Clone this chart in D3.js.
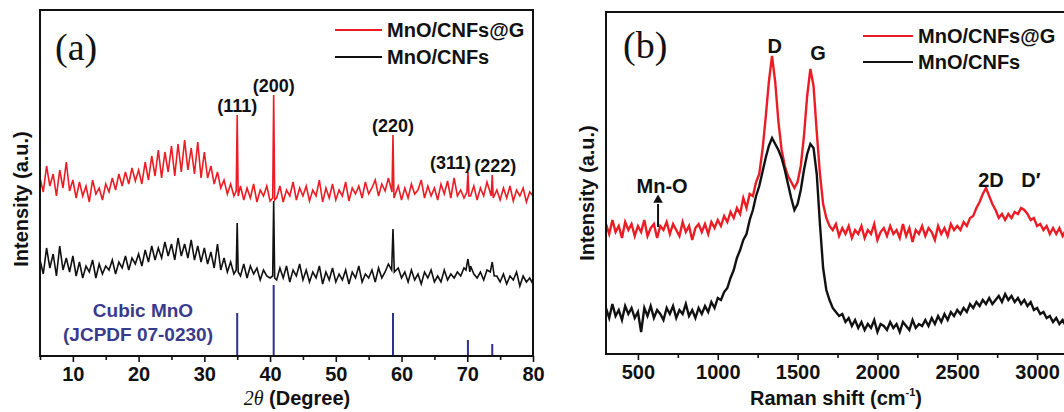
<!DOCTYPE html>
<html lang="en">
<head>
<meta charset="utf-8">
<title>MnO/CNFs XRD and Raman</title>
<script src="https://cdn.jsdelivr.net/npm/d3@7/dist/d3.min.js"></script>
<style>
  body { margin: 0; background: #fff; }
  svg { display: block; font-family: "Liberation Sans", Arial, sans-serif; font-weight: bold; }
  .serif { font-family: "Liberation Serif", "Times New Roman", serif; font-weight: normal; }
  .tick text { font-size: 20px; font-family: "Liberation Sans", Arial, sans-serif; font-weight: bold; }
  .tick line { stroke: #111; stroke-width: 1.6; }
</style>
</head>
<body>
<svg id="chart" width="1064" height="412"></svg>
<script>
// ---- (a) XRD, intensities on a 0.5 deg grid from 5 to 80 (a.u.) ----
var xrdStart = 5, xrdStep = 0.5;
var redXrd = [
  178,164,190,170,182,160,186,168,194,165,176,
  158,174,160,170,154,176,162,168,156,172,
  164,178,166,182,170,184,172,188,175,186,
  172,194,176,200,180,206,178,204,184,210,
  180,212,184,216,186,208,182,214,178,204,
  178,190,172,184,168,176,162,172,160,166,
  170,156,168,158,172,154,166,160,170,155,162,
  158,170,154,166,160,174,156,168,160,
  170,155,166,160,176,154,168,158,172,156,
  166,160,174,155,168,162,170,158,174,162,
  168,176,160,172,165,178,160,157,170,156,
  168,158,172,162,166,176,158,170,160,168,
  156,172,162,175,158,178,160,166,158,168,
  160,170,156,168,160,174,162,158,166,156,
  168,158,170,155,166,160,168,154,164,160
];
var blackXrd = [
  96,82,108,88,102,80,110,86,98,84,100,
  80,94,78,90,84,96,78,92,82,90,
  86,96,82,94,88,100,86,98,92,102,
  90,106,94,110,96,108,98,114,100,112,
  96,118,100,112,98,116,96,110,94,108,
  92,104,88,112,86,98,84,94,82,90,
  80,92,78,90,82,88,76,86,80,78,84,
  76,88,78,90,74,86,80,92,76,
  86,74,84,78,90,72,84,76,88,74,
  82,76,86,72,84,78,90,74,82,78,
  86,74,88,78,84,92,80,76,88,78,
  84,74,86,76,82,72,84,78,86,74,
  80,74,86,76,82,78,84,80,88,92,
  90,82,78,84,76,86,90,86,80,74,
  82,72,80,76,84,70,80,74,78,72
];
var xrdPeakAngle = [35.0, 40.55, 58.7, 70.1, 73.8];
var xrdPeakLabel = ["(111)", "(200)", "(220)", "(311)", "(222)"];
var redPeakTop = [241, 261, 221, 184, 181];
var redPeakPts = [[34.85,165],[35.0,241],[35.15,160], [40.4,158],[40.55,261],[40.7,156],
  [58.55,164],[58.7,221],[58.85,158], [69.95,164],[70.1,184],[70.25,160], [73.65,160],[73.8,181],[73.95,158]];
var blackPeakPts = [[34.85,86],[35.0,133],[35.15,84], [40.4,80],[40.55,155],[40.7,78],
  [58.5,86],[58.7,127],[58.9,84], [69.8,86],[70.1,97],[70.4,84], [73.5,84],[73.8,94],[74.1,80]];
var refIntensity = [43, 71, 43, 16, 12]; // cubic MnO, JCPDF 07-0230

// ---- (b) Raman, intensities on a 20 cm-1 grid from 300 to 3200 (a.u.) ----
var ramanStart = 300, ramanStep = 20;
var redRaman = [
  130,120,134,122,128,116,132,124,130,118,
  128,122,134,118,126,130,116,128,124,132,
  120,130,124,118,132,122,128,114,126,130,
  122,130,120,132,126,134,128,138,132,142,
  136,146,140,156,146,160,158,172,180,204,
  236,272,298,272,232,204,188,178,172,166,
  172,188,218,258,285,268,222,180,150,136,
  128,124,130,118,126,120,128,116,124,120,
  128,116,124,120,130,114,122,126,118,128,
  120,124,116,130,118,126,112,124,120,128,
  118,126,122,114,128,120,126,118,130,124,
  128,124,132,128,136,138,146,152,160,166,
  158,150,144,136,140,134,140,136,142,140,
  146,144,140,134,136,128,130,124,128,120,
  126,120,126,118,124,122
];
var blackRaman = [
  46,36,50,38,44,34,48,40,46,36,
  42,22,46,38,48,36,44,40,34,46,
  40,48,36,44,40,50,38,44,36,46,
  40,48,42,52,46,56,54,62,66,76,
  84,96,104,114,120,134,144,158,168,182,
  196,208,216,210,204,196,184,170,156,144,
  150,164,184,200,210,206,180,130,86,64,
  54,46,42,38,40,32,36,28,34,26,
  32,24,30,26,34,22,30,28,24,32,
  26,30,22,32,28,24,34,26,30,28,
  34,28,36,30,38,32,40,34,42,38,
  44,40,46,42,50,46,52,48,54,50,
  56,50,54,58,52,60,54,58,52,56,
  50,54,48,52,44,46,40,42,36,38,
  32,36,30,34,28,32
];
var ramanBandLabel = ["D", "G", "2D", "D\u2032"];
var ramanBandShift = [1345, 1590, 2686, 2911];
var mnoShift = 626;

var seriesNames = ["MnO/CNFs@G", "MnO/CNFs"];
var xrdTicks = [10, 20, 30, 40, 50, 60, 70, 80];
var xrdMinor = [5, 15, 25, 35, 45, 55, 65, 75];
var ramanTicks = [500, 1000, 1500, 2000, 2500, 3000];
var ramanMinor = [750, 1250, 1750, 2250, 2750];

var red = "#ec1c24", ink = "#111", stick = "#2e3192", navy = "#3a3a8c";
var svg = d3.select("#chart");
svg.append("rect").attr("width", 1064).attr("height", 412).attr("fill", "#fff");

function withPeaks(values, peaks) {
  var pts = values.map(function(v, i) { return [xrdStart + i * xrdStep, v]; })
    .filter(function(p) {
      return !xrdPeakAngle.some(function(a) { return Math.abs(p[0] - a) < 0.3; });
    });
  return pts.concat(peaks).sort(function(a, b) { return a[0] - b[0]; });
}

// ================= panel (a) =================
var xa = d3.scaleLinear().domain([5, 80]).range([40, 533]);
var ya = d3.scaleLinear().domain([0, 346]).range([356, 10]);
var lineA = d3.line().x(function(d) { return xa(d[0]); }).y(function(d) { return ya(d[1]); });
var ga = svg.append("g");

ga.append("path").datum(withPeaks(blackXrd, blackPeakPts))
  .attr("d", lineA).attr("fill", "none").attr("stroke", ink).attr("stroke-width", 1.6);
ga.append("path").datum(withPeaks(redXrd, redPeakPts))
  .attr("d", lineA).attr("fill", "none").attr("stroke", red).attr("stroke-width", 1.6);

// reference sticks
ga.selectAll("line.stick").data(xrdPeakAngle).enter().append("line")
  .attr("class", "stick")
  .attr("x1", function(d) { return xa(d); }).attr("x2", function(d) { return xa(d); })
  .attr("y1", ya(0)).attr("y2", function(d, i) { return ya(refIntensity[i]); })
  .attr("stroke", stick).attr("stroke-width", 2);

// peak labels
ga.selectAll("text.hkl").data(xrdPeakAngle).enter().append("text")
  .attr("class", "hkl")
  .attr("x", function(d, i) { return xa(d) + (i == 3 ? 3 : i == 4 ? 3 : 0); })
  .attr("y", function(d, i) { return ya(redPeakTop[i]) - 3; })
  .attr("text-anchor", function(d, i) { return i == 3 ? "end" : "middle"; })
  .attr("font-size", 18).attr("fill", ink)
  .text(function(d, i) { return xrdPeakLabel[i]; });

ga.append("text").attr("x", 143).attr("y", 317).attr("text-anchor", "middle")
  .attr("font-size", 19).attr("fill", navy).text("Cubic MnO");
ga.append("text").attr("x", 138).attr("y", 341).attr("text-anchor", "middle")
  .attr("font-size", 19).attr("fill", navy).text("(JCPDF 07-0230)");

ga.append("g").attr("transform", "translate(0," + ya(0) + ")")
  .call(d3.axisBottom(xa).tickValues(xrdMinor).tickSize(4).tickFormat(""))
  .call(function(g) { g.select(".domain").remove(); });
ga.append("g").attr("transform", "translate(0," + ya(0) + ")")
  .call(d3.axisBottom(xa).tickValues(xrdTicks).tickSize(6).tickPadding(5).tickFormat(d3.format("d")))
  .call(function(g) { g.select(".domain").remove(); g.selectAll("text").attr("fill", ink); });

ga.append("rect").attr("x", 40).attr("y", 10).attr("width", 493).attr("height", 346)
  .attr("fill", "none").attr("stroke", ink).attr("stroke-width", 2);

ga.append("text").attr("class", "serif").attr("x", 55).attr("y", 60)
  .attr("font-size", 38).attr("fill", ink).text("(a)");

var ta = ga.append("text").attr("x", 297).attr("y", 405).attr("text-anchor", "middle")
  .attr("font-size", 20).attr("fill", ink);
ta.append("tspan").attr("class", "serif").attr("font-style", "italic").text("2\u03b8");
ta.append("tspan").text(" (Degree)");

ga.append("text").attr("transform", "translate(28,199) rotate(-90)")
  .attr("text-anchor", "middle").attr("font-size", 20).attr("fill", ink).text("Intensity (a.u.)");

// legend (a)
[red, ink].forEach(function(c, i) {
  ga.append("line").attr("x1", 335).attr("x2", 382).attr("y1", 30 + i * 27).attr("y2", 30 + i * 27)
    .attr("stroke", c).attr("stroke-width", 2);
  ga.append("text").attr("x", 387).attr("y", 37 + i * 27).attr("font-size", 20)
    .attr("fill", ink).text(seriesNames[i]);
});

// ================= panel (b) =================
var xb = d3.scaleLinear().domain([300, 3200]).range([606, 1069]);
var yb = d3.scaleLinear().domain([0, 342]).range([354, 12]);
var lineB = d3.line().x(function(d, i) { return xb(ramanStart + i * ramanStep); }).y(function(d) { return yb(d); });
var gb = svg.append("g");

gb.append("path").datum(redRaman).attr("d", lineB).attr("fill", "none")
  .attr("stroke", red).attr("stroke-width", 2.4);
gb.append("path").datum(blackRaman).attr("d", lineB).attr("fill", "none")
  .attr("stroke", ink).attr("stroke-width", 2.4);

gb.append("g").attr("transform", "translate(0," + yb(0) + ")")
  .call(d3.axisBottom(xb).tickValues(ramanMinor).tickSize(4).tickFormat(""))
  .call(function(g) { g.select(".domain").remove(); });
gb.append("g").attr("transform", "translate(0," + yb(0) + ")")
  .call(d3.axisBottom(xb).tickValues(ramanTicks).tickSize(6).tickPadding(5).tickFormat(d3.format("d")))
  .call(function(g) { g.select(".domain").remove(); g.selectAll("text").attr("fill", ink); });

gb.append("rect").attr("x", 606).attr("y", 12).attr("width", 463).attr("height", 342)
  .attr("fill", "none").attr("stroke", ink).attr("stroke-width", 2);

gb.append("text").attr("class", "serif").attr("x", 623).attr("y", 58)
  .attr("font-size", 38).attr("fill", ink).text("(b)");

// band labels
var bandY = [53, 60, 187, 187];
var bandDx = [2, 6, 4, 8];
gb.selectAll("text.band").data(ramanBandShift).enter().append("text")
  .attr("class", "band")
  .attr("x", function(d, i) { return xb(d) + bandDx[i]; })
  .attr("y", function(d, i) { return bandY[i]; })
  .attr("text-anchor", "middle").attr("font-size", 20).attr("fill", ink)
  .text(function(d, i) { return ramanBandLabel[i]; });

// Mn-O arrow
gb.append("line").attr("x1", xb(mnoShift)).attr("x2", xb(mnoShift))
  .attr("y1", yb(127)).attr("y2", yb(150)).attr("stroke", ink).attr("stroke-width", 2);
gb.append("path").attr("d", d3.symbol().type(d3.symbolTriangle).size(40))
  .attr("transform", "translate(" + xb(mnoShift) + "," + (yb(154)) + ")").attr("fill", ink);
gb.append("text").attr("x", xb(mnoShift) + 4).attr("y", yb(161)).attr("text-anchor", "middle")
  .attr("font-size", 20).attr("fill", ink).text("Mn-O");

var tb = gb.append("text").attr("x", 836).attr("y", 405).attr("text-anchor", "middle")
  .attr("font-size", 20).attr("fill", ink);
tb.append("tspan").text("Raman shift (cm");
tb.append("tspan").attr("font-size", 11).attr("dy", -9).text("-1");
tb.append("tspan").attr("dy", 9).text(")");

gb.append("text").attr("transform", "translate(594,193) rotate(-90)")
  .attr("text-anchor", "middle").attr("font-size", 20).attr("fill", ink).text("Intensity (a.u.)");

// legend (b)
[red, ink].forEach(function(c, i) {
  gb.append("line").attr("x1", 863).attr("x2", 913).attr("y1", 36 + i * 26).attr("y2", 36 + i * 26)
    .attr("stroke", c).attr("stroke-width", 2);
  gb.append("text").attr("x", 918).attr("y", 43 + i * 26).attr("font-size", 20)
    .attr("fill", ink).text(seriesNames[i]);
});
</script>
</body>
</html>
